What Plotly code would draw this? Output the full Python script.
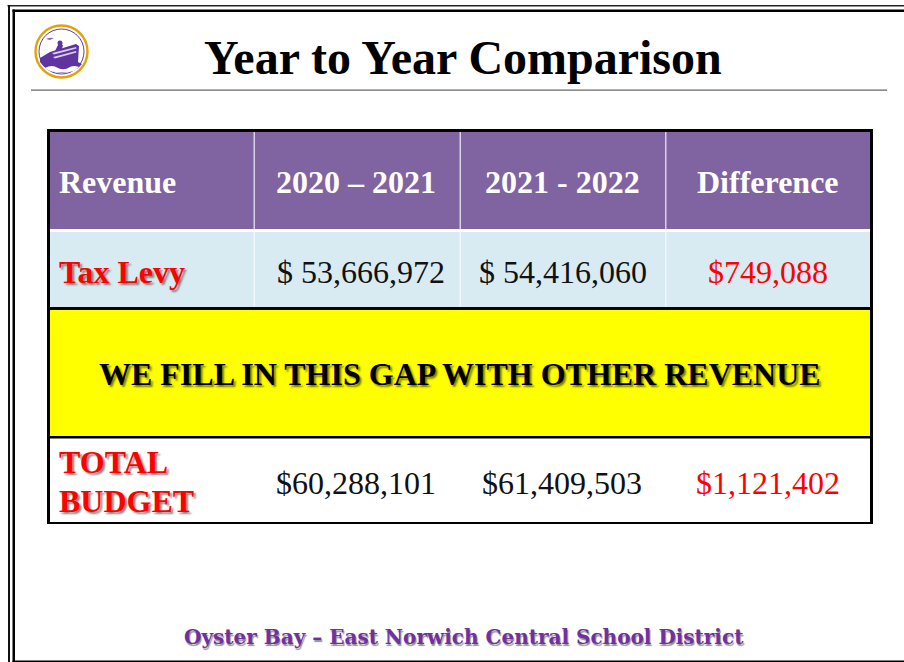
import plotly.graph_objects as go

TITLE = "Year to Year Comparison"
FOOTER = "Oyster Bay – East Norwich Central School District"
HEADERS = ["Revenue", "2020 – 2021", "2021 - 2022", "Difference"]
TAX_LEVY = ["Tax Levy", "$ 53,666,972", "$ 54,416,060", "$749,088"]
GAP_NOTE = "WE FILL IN THIS GAP WITH OTHER REVENUE"
TOTAL_LINES = ["TOTAL", "BUDGET"]
TOTAL_BUDGET = ["$60,288,101", "$61,409,503", "$1,121,402"]

PURPLE = "#8064a2"
LIGHT = "#d9ebf2"
DEEP = "#7030a0"

shapes = []
ann = []


def rect(x0, y0, x1, y1, color):
    shapes.append(dict(type="rect", x0=x0, y0=y0, x1=x1, y1=y1,
                       fillcolor=color, line=dict(width=0), layer="above"))


def circle(cx, cy, r, fill, line=None, w=0):
    shapes.append(dict(type="circle", x0=cx - r, y0=cy - r, x1=cx + r, y1=cy + r,
                       fillcolor=fill, line=dict(width=w, color=line or fill), layer="above"))


def path(d, fill, line=None, w=0):
    shapes.append(dict(type="path", path=d, fillcolor=fill,
                       line=dict(width=w, color=line or fill), layer="above"))


def text(x, y, s, size, color, bold=False, anchor="center", shadow="none", family="Liberation Serif"):
    ann.append(dict(x=x, y=y, text=f"<b>{s}</b>" if bold else s, showarrow=False,
                    xanchor=anchor, yanchor="middle", align="left" if anchor == "left" else "center",
                    font=dict(family=family, size=size, color=color, shadow=shadow)))


# slide frame
rect(7.5, 5, 904, 6.5, "#222222")
rect(8, 5, 10, 662, "#111111")
rect(12.5, 9.5, 904, 12, "#000000")
rect(12.5, 9.5, 15, 662, "#000000")
rect(12.5, 660.5, 904, 662, "#000000")

# title rule
rect(31, 89.5, 887, 90.7, "#666666")

# logo
circle(61.5, 51.5, 26, "#ffffff", "#e0a30a", 2.4)
circle(61.5, 51.5, 22.5, "#ffffff", "#6a3aa2", 1)
path("M 40 58 L 50 52 L 76 44 L 79 46 L 78 62 L 82 64 Q 76 72 62 73 Q 46 72 40 62 Z", "#5f33a0")
path("M 45 68 Q 52 64 58 68 Q 64 71 70 67 Q 74 65 79 67 L 74 71 Q 62 74 50 71 Z", "#ffffff")
path("M 52 53 L 76 47 L 76.5 48.5 L 54 54.5 Z M 53 57 L 76 51 L 76.5 52.5 L 55 58.5 Z", "#d9cfe8")
circle(60, 43, 2.5, "#5f33a0")
path("M 55 51 L 58 45 L 63 45 L 62 49 Z", "#5f33a0")
path("M 46 39 Q 50 37 54 38 L 50 40 Z", "#8a68b8")

# table fills
rect(47, 129, 873, 524, "#000000")
rect(50, 132, 870, 229, PURPLE)
rect(50, 229, 870, 232, "#ffffff")
rect(50, 232, 870, 307, LIGHT)
rect(50, 310, 870, 436, "#ffff00")
rect(50, 438.5, 870, 522, "#ffffff")
for x in (253.5, 459.5, 665):
    rect(x, 132, x + 1.5, 229, "#d8d0e4")
    rect(x, 232, x + 1.5, 307, "#f2f7fa")

col_x = [356, 562, 768]
row_label_x = 56.5
shadow_grey = "2px 2px 2px rgba(90,90,90,0.75)"

text(462.5, 57, TITLE, 48, "#000000", bold=True)
text(row_label_x, 182, HEADERS[0], 32, "#ffffff", bold=True, anchor="left")
for i, h in enumerate(HEADERS[1:]):
    text(col_x[i], 182, h, 32, "#ffffff", bold=True)

text(row_label_x, 271.5, TAX_LEVY[0], 32, "#ff0000", bold=True, anchor="left", shadow=shadow_grey)
text(360.5, 272, TAX_LEVY[1], 32, "#111111")
text(562.5, 272, TAX_LEVY[2], 32, "#111111")
text(col_x[2], 272, TAX_LEVY[3], 32, "#ff0000")

text(459.5, 374, GAP_NOTE, 32, "#000000", bold=True, shadow="2px 2px 2px rgba(90,90,0,0.8)")

text(row_label_x, 462, TOTAL_LINES[0], 32, "#ff0000", bold=True, anchor="left", shadow=shadow_grey)
text(row_label_x, 501, TOTAL_LINES[1], 32, "#ff0000", bold=True, anchor="left", shadow=shadow_grey)
text(col_x[0], 483, TOTAL_BUDGET[0], 32, "#111111")
text(562, 483, TOTAL_BUDGET[1], 32, "#111111")
text(col_x[2], 483, TOTAL_BUDGET[2], 32, "#ff0000")

text(463.5, 637, FOOTER, 20, DEEP, bold=True, family="DejaVu Serif",
     shadow="1px 2px 1px rgba(120,120,120,0.8)")

fig = go.Figure()
fig.update_layout(
    width=904, height=662, margin=dict(l=0, r=0, t=0, b=0),
    paper_bgcolor="#ffffff", plot_bgcolor="#ffffff", showlegend=False,
    xaxis=dict(range=[0, 904], visible=False, fixedrange=True),
    yaxis=dict(range=[662, 0], visible=False, fixedrange=True),
    shapes=shapes, annotations=ann,
)
fig.write_html("out.html", config=dict(displayModeBar=False),
               post_script="document.body.style.margin='0';document.body.style.overflow='hidden';")
